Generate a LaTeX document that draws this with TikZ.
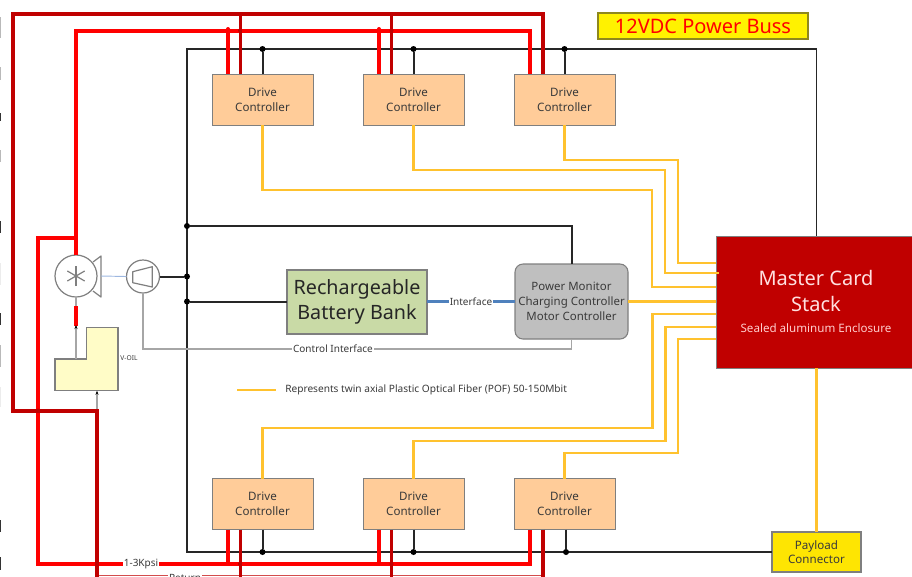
\documentclass[tikz,border=0pt]{standalone}
\usepackage{fontspec}
\setmainfont{Noto Sans}
\usetikzlibrary{arrows.meta, positioning, calc}
\definecolor{redFeed}{HTML}{FF0000}
\definecolor{redBack}{HTML}{C00000}
\definecolor{fiberCol}{HTML}{FFC22E}
\definecolor{driveFill}{HTML}{FFCC99}
\definecolor{edgeGrey}{HTML}{7F7F7F}
\definecolor{ctrlGrey}{HTML}{A6A6A6}
\definecolor{textDark}{HTML}{3A3A3A}
\definecolor{batteryFill}{HTML}{C9DAA6}
\definecolor{ifaceBlue}{HTML}{4F81BD}
\definecolor{ifaceThin}{HTML}{9DB7E0}

\begin{document}
\begin{tikzpicture}[
    x=0.75pt, y=-0.75pt,
    node distance=37.5pt,
    drivebox/.style={rectangle, draw=edgeGrey, fill=driveFill, line width=0.7pt,
                 font=\fontsize{8.7}{11}\selectfont, text=textDark, minimum height=38.25pt,
                 minimum width=75.75pt, align=center, inner sep=0pt, outer sep=0pt},
    feed/.style={redFeed, line width=3pt},
    back/.style={redBack, line width=2.7pt},
    bus/.style={black!85, line width=1.2pt},
    stub/.style={black!85, line width=1.5pt},
    fiber/.style={fiberCol, line width=1.7pt},
    ctrl/.style={ctrlGrey, line width=1.1pt},
    device/.style={edgeGrey, line width=0.9pt},
    junc/.style={circle, fill=#1, inner sep=0pt, minimum size=4.5pt},
    lbl/.style={fill=white, inner sep=0.5pt, font=\fontsize{7.5}{9}\selectfont, text=textDark}
  ]
    \clip (0,0) rectangle (912,576);

    % drive controllers
    \node[drivebox] (dt1) at (262.5,99.5) {Drive\\Controller};
    \node[drivebox, right=of dt1] (dt2) {Drive\\Controller};
    \node[drivebox, right=of dt2] (dt3) {Drive\\Controller};
    \node[drivebox] (db1) at (262.5,504) {Drive\\Controller};
    \node[drivebox, right=of db1] (db2) {Drive\\Controller};
    \node[drivebox, right=of db2] (db3) {Drive\\Controller};

    % main blocks
    \node[draw=edgeGrey, fill=redBack, line width=0.6pt, minimum width=147pt, minimum height=99pt,
          anchor=north west, outer sep=0pt] (master) at (716,236) {};
    \node[font=\fontsize{15}{19.5}\selectfont, text=white!88!red, align=center] (masterlbl) at (816,291) {Master Card\\Stack};
    \node[font=\fontsize{8.7}{10}\selectfont, text=white!80!red] (masterSub) at (816,328) {Sealed aluminum Enclosure};
    \node[draw=edgeGrey, fill=yellow!88!orange, line width=0.8pt, minimum width=66.75pt, minimum height=30pt,
          inner sep=0pt, outer sep=0pt, align=center, font=\fontsize{8.7}{11}\selectfont, text=textDark] (payload) at (816.5,552) {Payload\\Connector};
    \node[draw=olive!80!gray, fill=yellow, line width=0.8pt, minimum width=157.5pt, minimum height=19.5pt,
          inner sep=0pt, outer sep=0pt, font=\fontsize{15}{17}\selectfont, text=redFeed] (title) at (703,26) {12VDC Power Buss};
    \node[draw=edgeGrey, fill=batteryFill, line width=1pt, minimum width=105pt, minimum height=48pt,
          inner sep=0pt, outer sep=0pt, align=center, font=\fontsize{14.8}{19}\selectfont, text=black!85] (battery) at (357,302) {Rechargeable\\Battery Bank};
    \node[draw=edgeGrey, fill=gray!50, rounded corners=6pt, line width=0.8pt, minimum width=84.75pt, minimum height=56.25pt,
          inner sep=0pt, outer sep=0pt, align=center, font=\fontsize{8.6}{11.25}\selectfont, text=textDark] (power) at (571.5,301.5) {Power Monitor\\Charging Controller\\Motor Controller};

    % motor, pump and oil tank
    \node[circle, draw=edgeGrey, fill=white, line width=0.9pt, minimum size=31.5pt, inner sep=0pt, outer sep=0pt] (motor) at (76,276) {};
    \node[circle, draw=edgeGrey, fill=white, line width=0.9pt, minimum size=24.75pt, inner sep=0pt, outer sep=0pt] (pump) at (143,276.5) {};
    \foreach \a in {0,60,120} {
      \draw[device] ($(motor)+(\a+30:10)$) -- ($(motor)+(\a+210:10)$);
    }
    \draw[device, line join=round] (93,262) -- (101,256) -- (101,297) -- (93,291);
    \draw[device, line join=round] (132.7,271.7) -- (152.3,266.7) -- (152.3,287) -- (132.7,282.7) -- cycle;
    \draw[device, fill=yellow!22, line join=miter] (55,359) -- (86.7,359) -- (86.7,327.3) -- (118,327.3) -- (118,390.7) -- (55,390.7) -- cycle;
    \coordinate (tanktop) at (76,359);
    \coordinate (tankbot) at (97,390.7);
    \node[font=\fontsize{5}{6}\selectfont, text=textDark] (voil) at (129,358) {V-OIL};

    % cut off at the left edge
    \foreach \ya/\yb in {17/38, 67/80, 150/162, 345/367} {
      \fill[gray!55] (0,\ya) rectangle (1.2,\yb);
    }
    \foreach \ya/\yb in {263/285, 387/407} {
      \fill[gray!15] (0,\ya) rectangle (1.2,\yb);
    }
    \foreach \ya/\yb in {113/121, 221/233, 313/325, 520/532, 557/570} {
      \fill[black!80] (0,\ya) rectangle (1.2,\yb);
    }

    % power bus
    \coordinate (busTL) at (187,49);
    \coordinate (busBL) at (187,552);
    \coordinate (busTR) at (816.3,49);
    \draw[bus] (busTR |- master.north) -- (busTR) -- (busTL) -- (busBL) -- (payload.west);
    \foreach \n in {dt1,dt2,dt3} {
      \node[junc=black] (\n b) at (\n.north |- busTL) {};
      \draw[stub] (\n.north) -- (\n b);
    }
    \foreach \n in {db1,db2} {
      \node[junc=black] (\n b) at (\n.south |- busBL) {};
      \draw[stub] (\n.south) -- (\n b);
    }
    \node[junc=black] (db3b) at (566,552) {};
    \draw[stub] (db3.south -| db3b) -- (db3b);
    \node[junc=black] (jpm) at (187,226) {};
    \node[junc=black] (jpump) at (187,276.5) {};
    \node[junc=black] (jbat) at (187,301.5) {};
    \draw[stub] (jpm) -| (power.north);
    \draw[stub] (pump.east) -- (jpump);
    \draw[stub] (jbat) -- (jbat -| battery.west);

    % interfaces
    \draw[ifaceThin, line width=0.7pt] (101,276) -- (pump.west);
    \draw[ifaceBlue, line width=1.7pt] (battery.east |- 0,301.5) -- (power.west |- 0,301.5)
      node[midway, lbl] (iface) {Interface};
    \coordinate (ctrlCorner) at (143,349);
    \draw[ctrl] (power.south) |- (ctrlCorner) -- (pump.south);
    \node[lbl] (ctrllbl) at (333,348.5) {Control Interface};

    % fiber links
    \draw[fiber] (dt1.south) |- (652,190) |- (master.west |- 0,287);
    \draw[fiber] (dt2.south) |- (665,170) |- (719,273);
    \draw[fiber] (dt3.south) |- (678,160) |- (master.west |- 0,263);
    \draw[fiber] (power.east) -- (master.west |- power.east);
    \draw[fiber] (db1.north) |- (652.5,428) |- (master.west |- 0,314);
    \draw[fiber] (db2.north) |- (665.5,441) |- (master.west |- 0,327);
    \draw[fiber] (db3.north) |- (678,453) |- (master.west |- 0,339);
    \draw[fiber] (master.south -| payload.north) -- (payload.north);
    \coordinate (legA) at (237,390);
    \coordinate (legB) at (276,390);
    \draw[fiber] (legA) -- (legB);
    \node[font=\fontsize{7.6}{9}\selectfont, text=textDark, anchor=west, inner sep=0pt] (legend) at (285,389.5) {Represents twin axial Plastic Optical Fiber (POF) 50-150Mbit};

    % hydraulic feed
    \coordinate (feedT) at (76,31);
    \coordinate (feedL) at (76,238);
    \coordinate (feedB) at (38,564);
    \coordinate (feedR) at ($(db3.south)+(-34.5,0)$);
    \draw[feed] (motor.north) -- (feedT) -| ($(dt3.north)+(-34.5,0)$);
    \draw[feed] (feedL) -| (feedB) -| (feedR);
    \draw[ctrl] (motor.south) -- (tanktop);
    \draw[feed, line width=2.4pt] (76,306) -- (76,326);
    \draw[ctrl, -{Stealth[length=3pt, black]}] (76,332) -- (76,325);
    \foreach \n in {dt1,dt2} {
      \draw[feed] ($(\n.north)+(-34.5,0)$) -- ++(0,-45);
    }
    \foreach \n in {db1,db2} {
      \draw[feed] ($(\n.south)+(-34.5,0)$) |- (feedB);
    }
    \node[lbl] (kpsi) at (141,564) {1-3Kpsi};

    % hydraulic return
    \coordinate (backT) at (13,14);
    \coordinate (backB) at (97,411);
    \draw[ctrl, -{Stealth[length=3pt, black]}] (backB) -- (tankbot);
    \draw[redBack!70!white, line width=0.7pt] (97,575) -- ($(db3.south)+(-21.5,45.5)$);
    \draw[back] ($(dt3.north)+(-21.5,0)$) |- (backT) |- (backB) -- (97,580);
    \foreach \n in {dt1,dt2} {
      \draw[back] ($(\n.north)+(-22,0)$) -- ++(0,-60);
    }
    \foreach \n in {db1,db2} {
      \draw[back] ($(\n.south)+(-22,0)$) -- ++(0,51);
    }
    \draw[back] ($(db3.south)+(-21.5,0)$) -- ++(0,51);
    \node[lbl] (ret) at (185,578) {Return};

    % pipe crossings
    \fill[redFeed] (228,29) circle (1.5pt) (379,29) circle (1.5pt);
    \fill[redBack] (240,30.5) circle (1.5pt) (391.5,30.5) circle (1.5pt) (38,410.5) circle (1.5pt)
      (97,564) circle (1.5pt) (240,564) circle (1.5pt) (391.5,564) circle (1.5pt);
  \end{tikzpicture}
\end{document}
